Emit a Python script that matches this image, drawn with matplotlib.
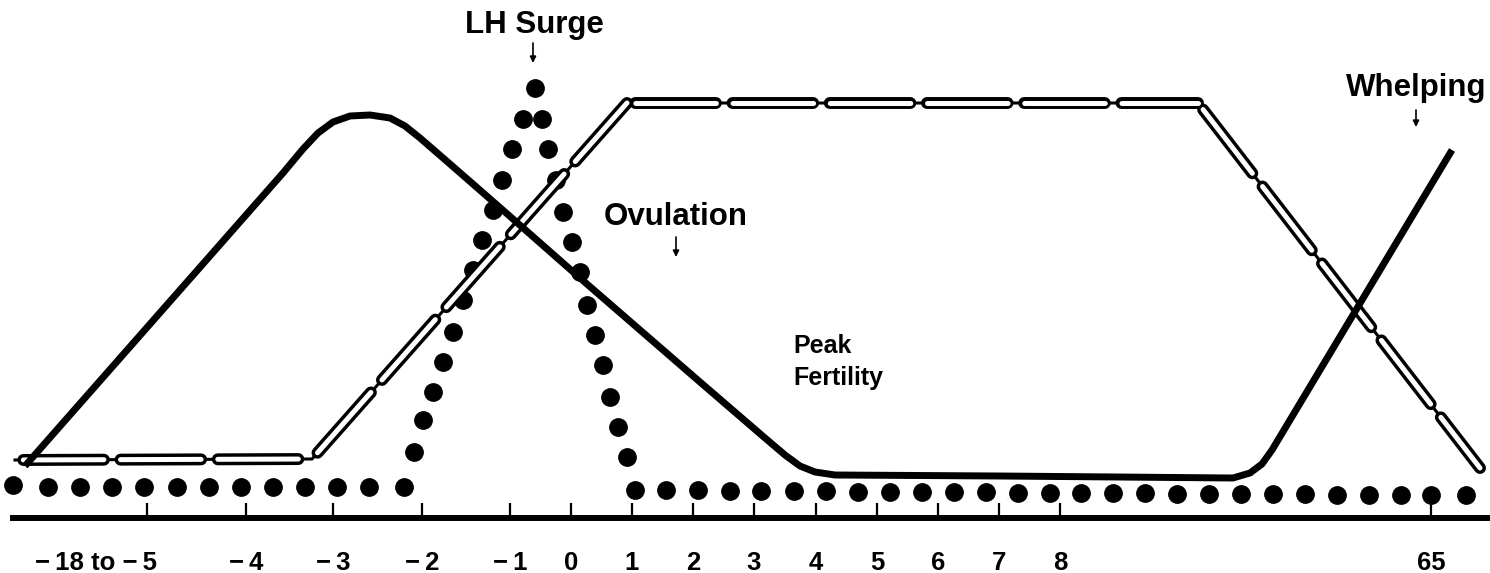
import matplotlib
matplotlib.use("Agg")
import matplotlib.pyplot as plt
from matplotlib.transforms import offset_copy

plt.rcParams['font.family'] = ['Liberation Sans', 'DejaVu Sans']
plt.rcParams['lines.scale_dashes'] = False

# schematic time axis (drawing units along the baseline), days relative to LH surge
tick_pos = [147, 246, 333, 422, 510, 571, 632, 693, 754, 816, 877, 938, 999, 1060, 1431]
tick_lbl = ['\u2212\u200918 to \u2212\u20095', '\u2212\u20094', '\u2212\u20093', '\u2212\u20092',
            '\u2212\u20091', '0', '1', '2', '3', '4', '5', '6', '7', '8', '65']

# estrogen (solid line); y is measured downward from the top of the drawing
estr_x = [25, 283, 303, 318, 333, 350, 370, 390, 405, 420, 450, 505, 580, 700,
          765, 785, 800, 815, 835, 1000, 1233, 1250, 1262, 1272, 1452]
estr_y = [466, 173, 149, 133, 122, 116, 115, 118, 126, 138, 164, 212, 278, 382,
          438, 455, 466, 472, 475, 476, 478, 473, 464, 450, 150]

# progesterone (double line) corner points
prog_x = [15, 312, 627, 1198, 1480]
prog_y = [460, 459, 103, 103, 468]

# LH (dots)
lh_x = [13, 48, 80, 112, 144, 177, 209, 241, 273, 305, 337, 369, 404,
        414, 423, 433, 443, 453, 463, 473, 482, 493, 502, 512, 523,
        535,
        542, 548, 556, 563, 572, 580, 587, 595, 603, 610, 618, 627,
        635, 666, 698, 730, 761, 794, 826, 858, 890, 922, 954, 986, 1018, 1050,
        1081, 1113, 1145, 1177, 1209, 1241, 1273, 1305, 1337, 1369, 1401, 1431, 1466]
lh_y = [485, 487, 487, 487, 487, 487, 487, 487, 487, 487, 487, 487, 487,
        452, 420, 392, 362, 332, 300, 270, 240, 210, 180, 149, 119,
        88,
        119, 149, 180, 212, 242, 272, 305, 335, 365, 397, 427, 457,
        490, 490, 490, 491, 491, 491, 491, 492, 492, 492, 492, 492, 493, 493,
        493, 493, 493, 494, 494, 494, 494, 494, 495, 495, 495, 495, 495]

fig = plt.figure(figsize=(14.9, 5.73), dpi=100)
ax = fig.add_axes([13 / 1490, 55 / 573, 1474 / 1490, 518 / 573])
ax.set_xlim(13, 1487)
ax.set_ylim(518, 0)

# LH dots
ax.plot(lh_x, lh_y, 'o', color='black', ms=12.5, zorder=2, clip_on=False)

# progesterone: chain of outlined capsules joined by thin pinches
ax.plot(prog_x, prog_y, color='black', lw=2.2, zorder=3, clip_on=False)
for i in range(len(prog_x) - 1):
    seg_x, seg_y = prog_x[i:i + 2], prog_y[i:i + 2]
    ax.plot(seg_x, seg_y, color='black', lw=8.6, linestyle=(64, (58, 12)),
            dash_capstyle='round', zorder=3, clip_on=False)
    ax.plot(seg_x, seg_y, color='white', lw=3.6, linestyle=(64, (58, 12)),
            dash_capstyle='round', zorder=4, clip_on=False)

# estrogen
ax.plot(estr_x, estr_y, color='black', lw=5, solid_joinstyle='round',
        solid_capstyle='butt', zorder=5, clip_on=False)

# axis
for s in ['top', 'left', 'right']:
    ax.spines[s].set_visible(False)
ax.spines['bottom'].set_linewidth(4.3)
ax.set_yticks([])
ax.set_xticks(tick_pos)
ax.set_xticklabels(tick_lbl, fontweight='bold')
ax.tick_params(axis='x', direction='in', length=11, width=1.6, pad=24, labelsize=18.5)
first = ax.get_xticklabels()[0]
first.set_horizontalalignment('right')
first.set_transform(offset_copy(first.get_transform(), fig=fig, x=10, y=0, units='dots'))

# annotations
lab = dict(fontsize=22.5, fontweight='bold', ha='center', va='baseline')
ax.text(534, 33, 'LH Surge', **lab)
ax.text(676, 225, 'Ovulation', **lab)
ax.text(1416, 96, 'Whelping', **lab)
ax.text(793, 353, 'Peak', fontsize=18, fontweight='bold', va='baseline')
ax.text(793, 385, 'Fertility', fontsize=18, fontweight='bold', va='baseline')

arrow = dict(arrowstyle='-|>', lw=1.2, color='black', mutation_scale=9, shrinkA=0, shrinkB=0)
ax.annotate('', xy=(533, 63), xytext=(533, 43), arrowprops=arrow)
ax.annotate('', xy=(676, 257), xytext=(676, 237), arrowprops=arrow)
ax.annotate('', xy=(1416, 127), xytext=(1416, 110), arrowprops=arrow)

fig.savefig('out.png', dpi=100)
